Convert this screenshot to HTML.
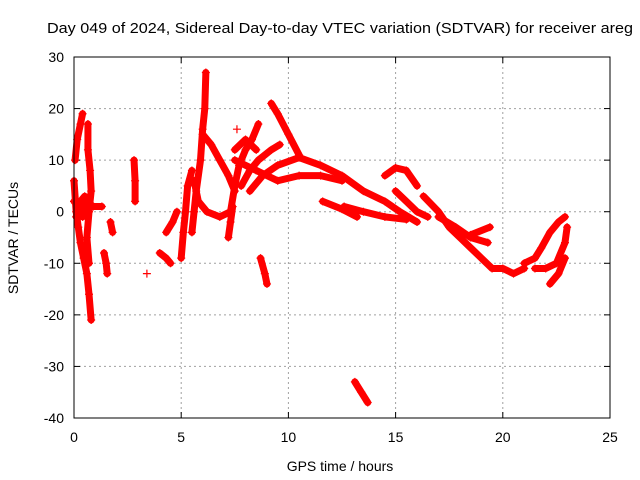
<!DOCTYPE html>
<html><head><meta charset="utf-8"><style>
html,body{margin:0;padding:0;background:#fff}
svg{display:block;font-family:"Liberation Sans",sans-serif}
</style></head><body>
<svg id="chart" width="640" height="480">
<text x="47" y="33" font-size="15" textLength="586" lengthAdjust="spacingAndGlyphs">Day 049 of 2024, Sidereal Day-to-day VTEC variation (SDTVAR) for receiver areg</text>
<text x="340" y="471" font-size="14" text-anchor="middle">GPS time / hours</text>
<text transform="translate(18,238) rotate(-90)" font-size="14" text-anchor="middle">SDTVAR / TECUs</text>
<g id="grid"></g><g id="ticks"></g><g id="marks"></g>
<rect x="74" y="57" width="536" height="361" fill="none" stroke="#000" stroke-width="1"/>
</svg>
<script>
const xTicks=[0,5,10,15,20,25];
const yTicks=[-40,-30,-20,-10,0,10,20,30];
const tracks=[
[[0.05,10],[0.15,14],[0.3,17],[0.4,19]],
[[0.0,6],[0.1,0],[0.2,-3],[0.3,-6],[0.45,-9],[0.6,-12],[0.7,-16],[0.8,-21]],
[[0.65,17],[0.65,12],[0.75,8],[0.8,4],[0.7,0],[0.6,-5],[0.7,-10]],
[[0.0,2],[0.3,1],[0.6,2],[0.9,1],[1.3,1]],
[[0.1,-1],[0.3,2],[0.5,3],[0.4,-1]],
[[1.4,-8],[1.5,-10],[1.55,-12]],
[[1.7,-2],[1.8,-4]],
[[2.8,10],[2.85,6],[2.85,2]],
[[3.4,-12]],
[[4.0,-8],[4.3,-9],[4.5,-10]],
[[4.3,-4],[4.6,-2],[4.8,0]],
[[5.0,-9],[5.1,-4],[5.2,0],[5.3,5],[5.5,8]],
[[5.5,-4],[5.6,0],[5.7,4],[5.9,10],[6.0,16],[6.1,20],[6.15,27]],
[[6.0,15],[6.4,13],[6.8,10],[7.2,7],[7.5,4]],
[[5.6,6],[5.8,2],[6.2,0],[6.8,-1],[7.3,0],[7.5,5],[7.7,9],[8.0,12],[8.3,14],[8.6,17]],
[[7.2,-5],[7.3,-2],[7.4,1]],
[[7.6,16]],
[[7.8,5],[8.2,8],[8.6,10],[9.2,12],[9.6,13]],
[[7.5,12],[8,14],[8.5,12]],
[[9.2,21],[9.5,19],[10,15],[10.5,11]],
[[8.7,-9],[8.9,-12],[9.0,-14]],
[[13.1,-33],[13.4,-35],[13.7,-37]],
[[7.5,10],[8.5,8],[9.5,6],[10.5,7],[11.5,7],[12.5,6]],
[[8.2,4],[8.8,7],[9.5,9],[10.5,10.5],[11.5,9],[12.5,7],[13.5,4],[14.5,2],[15.2,0],[16,-2]],
[[11.6,2],[12.5,0.5],[13.2,-1]],
[[12.6,1],[13.5,0],[14.5,-1],[15.5,-1.5]],
[[14.5,7],[15,8.5],[15.5,8],[16,5]],
[[15,4],[15.5,2],[16,0],[16.5,-1]],
[[16.3,3],[17,0],[17.5,-3],[18,-5],[18.5,-7],[19,-9],[19.5,-11],[20,-11],[20.5,-12],[21,-11]],
[[17,-1],[17.8,-3],[18.5,-5],[19.3,-6]],
[[18.5,-4.5],[19.4,-3]],
[[21,-10],[21.5,-9],[21.8,-7],[22.2,-4],[22.6,-2],[22.9,-1]],
[[21.5,-11],[22,-11],[22.5,-10],[22.9,-6],[23,-3]],
[[22.2,-14],[22.6,-12],[22.9,-9]]
];
const NS='http://www.w3.org/2000/svg';
const X0=74,X1=610,Y0=418,Y1=57;
function sx(v){return X0+(v-0)/(25-0)*(X1-X0);}
function sy(v){return Y0-(v+40)/(70)*(Y0-Y1);}
function mk(tag,a,p){const e=document.createElementNS(NS,tag);for(const k in a)e.setAttribute(k,a[k]);p.appendChild(e);return e;}
const grid=document.getElementById('grid'),ticks=document.getElementById('ticks'),marks=document.getElementById('marks');
xTicks.forEach(t=>{
  const x=sx(t);
  if(t>0&&t<25){const g=mk('line',{x1:x,x2:x,y1:Y1,y2:Y0,stroke:'#a0a0a0','stroke-dasharray':'2,3'},grid);
  
  }
  mk('line',{x1:x,x2:x,y1:Y0,y2:Y0-6,stroke:'#000'},ticks);
  mk('line',{x1:x,x2:x,y1:Y1,y2:Y1+6,stroke:'#000'},ticks);
  const l=mk('text',{x:x,y:Y0+24,'font-size':14,'text-anchor':'middle'},ticks);l.textContent=t;
  
  
});
yTicks.forEach(t=>{
  const y=sy(t);
  if(t>-40&&t<30){const g=mk('line',{x1:X0,x2:X1,y1:y,y2:y,stroke:'#a0a0a0','stroke-dasharray':'2,3'},grid);
  
  }
  mk('line',{x1:X0,x2:X0+6,y1:y,y2:y,stroke:'#000'},ticks);
  mk('line',{x1:X1,x2:X1-6,y1:y,y2:y,stroke:'#000'},ticks);
  const l=mk('text',{x:X0-10,y:y+5,'font-size':14,'text-anchor':'end'},ticks);l.textContent=t;
  
  
});
tracks.forEach(tr=>{
  if(tr.length>1){
    const p=mk('polyline',{points:tr.map(d=>sx(d[0])+','+sy(d[1])).join(' '),fill:'none',stroke:'#ff0000','stroke-width':7,'stroke-linejoin':'round','stroke-linecap':'round'},marks);
    
    
  }
  tr.forEach(d=>{
    const x=sx(d[0]),y=sy(d[1]);
    const m=mk('path',{d:`M${x-4},${y}H${x+4}M${x},${y-4}V${y+4}`,stroke:'#ff0000','stroke-width':1.2},marks);
    
    
  });
});
</script>
</body></html>
